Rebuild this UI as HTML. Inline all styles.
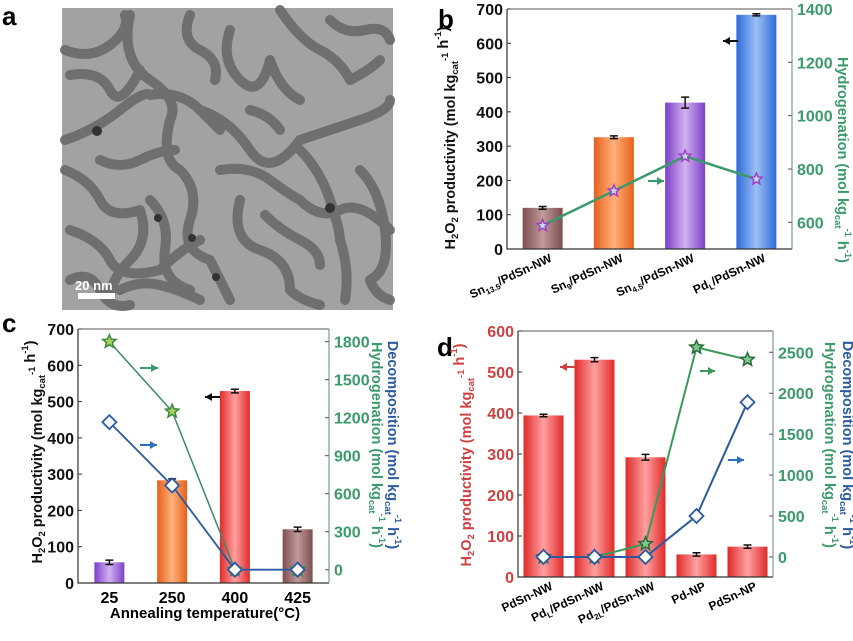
<!DOCTYPE html>
<html><head><meta charset="utf-8"><style>
body{margin:0;background:#fff;width:853px;height:636px;overflow:hidden}
svg{font-family:"Liberation Sans",Arial,sans-serif;font-weight:bold}
</style></head><body>
<svg id="fig" width="853" height="636" viewBox="0 0 853 636" xmlns="http://www.w3.org/2000/svg">
<defs>
<linearGradient id="gBrown" x1="0" x2="1"><stop offset="0" stop-color="#7d4f4f"/><stop offset=".5" stop-color="#c19a9a"/><stop offset="1" stop-color="#7d4f4f"/></linearGradient>
<linearGradient id="gOrange" x1="0" x2="1"><stop offset="0" stop-color="#e8601a"/><stop offset=".5" stop-color="#ffb07a"/><stop offset="1" stop-color="#e8601a"/></linearGradient>
<linearGradient id="gPurple" x1="0" x2="1"><stop offset="0" stop-color="#7d3fc8"/><stop offset=".5" stop-color="#d2b0f0"/><stop offset="1" stop-color="#7d3fc8"/></linearGradient>
<linearGradient id="gBlue" x1="0" x2="1"><stop offset="0" stop-color="#2f6ad8"/><stop offset=".5" stop-color="#9cc0f5"/><stop offset="1" stop-color="#2f6ad8"/></linearGradient>
<linearGradient id="gRed" x1="0" x2="1"><stop offset="0" stop-color="#e02a2a"/><stop offset=".5" stop-color="#ffa0a0"/><stop offset="1" stop-color="#e02a2a"/></linearGradient>
</defs>
<text x="2" y="25" font-size="26">a</text>
<g>
<rect x="62" y="8" width="331" height="302" fill="#a2a2a2"/>
<g fill="none" stroke="#6a6a6a" stroke-width="10" stroke-linecap="round" stroke-linejoin="round" opacity="0.9">
<path d="M65 50 Q90 60 110 45 T125 15"/>
<path d="M65 140 Q95 130 120 110 T150 95 Q180 90 200 110 T220 130"/>
<path d="M70 75 Q100 70 110 90 T140 70"/>
<path d="M130 15 Q120 60 150 80 T170 120 Q160 160 180 170"/>
<path d="M230 30 Q220 60 240 80 T270 60 Q280 90 300 100"/>
<path d="M280 10 Q300 40 320 50 T350 80 Q370 70 380 60"/>
<path d="M200 110 Q230 120 250 150 T300 140 Q330 130 360 120 T390 100"/>
<path d="M65 170 Q90 180 100 200 T140 210 Q150 240 130 260 T110 300"/>
<path d="M180 170 Q200 190 190 220 T210 260 Q220 280 230 300"/>
<path d="M220 170 Q250 165 270 180 T300 200 Q320 220 340 210 T390 230"/>
<path d="M240 200 Q230 240 260 250 T290 290 Q300 300 320 305"/>
<path d="M300 150 Q320 170 330 200 T340 240 Q350 270 345 300"/>
<path d="M70 230 Q100 240 110 260 T160 270 Q180 250 200 240"/>
<path d="M150 200 Q170 220 165 250 T190 290"/>
<path d="M360 170 Q380 190 385 230 T370 280 Q375 295 390 300"/>
<path d="M70 280 Q90 270 100 290 T130 305"/>
<path d="M190 15 Q180 40 200 50 T215 80"/>
<path d="M330 20 Q345 35 365 30 T390 40"/>
<path d="M100 160 Q120 170 140 160 T175 150"/>
<path d="M250 110 Q270 115 280 130"/>
<path d="M265 215 Q280 230 300 240 T320 265"/>
<path d="M120 290 Q140 280 160 285 T200 300"/>
</g>
<g fill="#333"><circle cx="97" cy="131" r="5"/><circle cx="330" cy="208" r="5"/><circle cx="192" cy="238" r="4"/><circle cx="158" cy="218" r="4"/><circle cx="216" cy="277" r="4"/></g>
<text x="75" y="290" font-size="13" fill="#fff">20 nm</text>
<rect x="78" y="293" width="37" height="6" fill="#fff"/>
</g>
<text x="438" y="28" font-size="26">b</text>
<text x="2" y="332" font-size="26">c</text>
<text x="437" y="356" font-size="26">d</text>
<g id="pb"></g>
<g id="pc"></g>
<g id="pd"></g>
</svg>
<script>
// ---- panel b data
const bCats = [["Sn","13.5","/PdSn-NW"],["Sn","9","/PdSn-NW"],["Sn","4.5","/PdSn-NW"],["Pd","L","/PdSn-NW"]];
const bH2O2 = [120, 326, 427, 683];
const bH2O2Err = [4, 4, 16, 3];
const bHydro = [588, 718, 848, 762];
const bLeftTicks = [0,100,200,300,400,500,600,700];
const bRightTicks = [600,800,1000,1200,1400];
// ---- panel c data
const cCats = ["25","250","400","425"];
const cH2O2 = [57, 283, 529, 148];
const cH2O2Err = [6, 4, 5, 6];
const cHydro = [1800, 1250, 0, 0];
const cDecomp = [1165, 665, 0, 0];
const cLeftTicks = [0,100,200,300,400,500,600,700];
const cRightTicks = [0,300,600,900,1200,1500,1800];
// ---- panel d data
const dCats = [["PdSn-NW","",""],["Pd","L","/PdSn-NW"],["Pd","2L","/PdSn-NW"],["Pd-NP","",""],["PdSn-NP","",""]];
const dH2O2 = [394, 530, 292, 55, 74];
const dH2O2Err = [3, 5, 7, 4, 4];
const dHydro = [0, 0, 160, 2560, 2410];
const dDecomp = [0, 0, 0, 500, 1890];
const dLeftTicks = [0,100,200,300,400,500,600];
const dRightTicks = [0,500,1000,1500,2000,2500];

const NS="http://www.w3.org/2000/svg";
function mk(parent,tag,attrs,text){const e=document.createElementNS(NS,tag);for(const k in attrs)e.setAttribute(k,attrs[k]);if(text!==undefined)e.textContent=text;parent.appendChild(e);return e;}
function lin(d0,d1,r0,r1){return v=>r0+(v-d0)*(r1-r0)/(d1-d0);}
function star(cx,cy,r){let p=[];for(let i=0;i<10;i++){const a=-Math.PI/2+i*Math.PI/5;const rr=i%2?r*0.45:r;p.push((cx+rr*Math.cos(a)).toFixed(1)+","+(cy+rr*Math.sin(a)).toFixed(1));}return p.join(" ");}

function panel(g,o){
  const x0=o.L,x1=o.R,yT=o.T,yB=o.B;
  const y=lin(o.ymin,o.ymax,yB,yT), yr=lin(o.rmin,o.rmax,yB,yT);
  const step=(x1-x0)/o.cats.length;
  const xc=i=>x0+step*(i+0.5);
  o.vals.forEach((v,i)=>{
    const b=mk(g,'rect',{x:xc(i)-o.bw/2,y:y(v),width:o.bw,height:yB-y(v),fill:o.fills[i]});
    
    
    const e=o.err[i],ex=xc(i);
    const eb=mk(g,'path',{d:`M${ex-4} ${y(v+e)}H${ex+4}M${ex} ${y(v+e)}V${y(v-e)}M${ex-4} ${y(v-e)}H${ex+4}`,stroke:'#111','stroke-width':1.5,fill:'none'});
    
    
  });
  const fr=mk(g,'path',{d:`M${x0} ${yT}V${yB}H${x1}`,stroke:'#333','stroke-width':1.2,fill:'none'});
  
  
  mk(g,'line',{x1:x0,y1:yT,x2:x1,y2:yT,stroke:'#555','stroke-width':1});
  const ra=mk(g,'line',{x1:x1,y1:yT,x2:x1,y2:yB,stroke:'#7a9aa8','stroke-width':1.2});
  
  
  o.lt.forEach(t=>{
    mk(g,'line',{x1:x0,y1:y(t),x2:x0+4,y2:y(t),stroke:'#333'});
    const tx=mk(g,'text',{x:x0-4,y:y(t)+6,'font-size':16,'text-anchor':'end',fill:o.lcol},t);
    
    
  });
  o.rt.forEach(t=>{
    mk(g,'line',{x1:x1,y1:yr(t),x2:x1-4,y2:yr(t),stroke:'#555'});
    const tx=mk(g,'text',{x:x1+5,y:yr(t)+6,'font-size':16,fill:'#3a9a6a'},t);
    
    
  });
  o.series.forEach(s=>{
    const pts=s.v.map((v,i)=>xc(i)+","+yr(v)).join(" ");
    const pl=mk(g,'polyline',{points:pts,fill:'none',stroke:s.c,'stroke-width':s.w});
    
    
    s.v.forEach((v,i)=>{
      let m;
      if(s.m==='star') m=mk(g,'polygon',{points:star(xc(i),yr(v),s.r||8),fill:s.mf,stroke:s.ms,'stroke-width':1.5});
      else m=mk(g,'polygon',{points:`${xc(i)},${yr(v)-7} ${xc(i)+7},${yr(v)} ${xc(i)},${yr(v)+7} ${xc(i)-7},${yr(v)}`,fill:'#fff',stroke:s.c,'stroke-width':1.8});
      
      
    });
  });
  o.cats.forEach((c,i)=>{
    let t;
    if(o.rot){
      const ax=xc(i)+10, ay=yB+12;
      t=mk(g,'text',{x:ax,y:ay,'font-size':12,'text-anchor':'end',transform:`rotate(-25 ${ax} ${ay})`});
      const a=document.createElementNS(NS,'tspan');a.textContent=c[0];t.appendChild(a);
      if(c[1]){const s=document.createElementNS(NS,'tspan');s.setAttribute('font-size','8');s.setAttribute('dy','3');s.textContent=c[1];t.appendChild(s);
        const r=document.createElementNS(NS,'tspan');r.setAttribute('dy','-3');r.textContent=c[2];t.appendChild(r);}
    } else {
      t=mk(g,'text',{x:xc(i),y:yB+20,'font-size':16,'text-anchor':'middle'},c);
    }
    
    
  });
  return {xc,y,yr};
}
function arrow(g,x1,y1,x2,col){const a=mk(g,'g',{});mk(a,'line',{x1:x1,y1:y1,x2:x2,y2:y1,stroke:col,'stroke-width':2});const d=x2>x1?-1:1;mk(a,'polygon',{points:`${x2},${y1} ${x2+d*7},${y1-4} ${x2+d*7},${y1+4}`,fill:col});}
function vtitle(g,x,y,parts,col,rotDeg,size){const t=mk(g,'text',{x:x,y:y,'font-size':size||16,'text-anchor':'middle',fill:col,transform:`rotate(${rotDeg} ${x} ${y})`});parts.forEach(p=>{const s=document.createElementNS(NS,'tspan');s.textContent=p[0];if(p[1])s.setAttribute('font-size','0.65em');if(p[1]==='sub')s.setAttribute('dy','3');if(p[1]==='sup')s.setAttribute('dy','-7');if(p[2])s.setAttribute('dy',p[2]);s.setAttribute('fill',col);t.appendChild(s);});return t;}
const h2o2Parts=[["H"],["2","sub"],["O","", "-3"],["2","sub"],[" productivity (mol kg","","-3"],["cat","sub"],["-1","sup","-10"],[" h",""," 7"],["-1","sup"],[")","","7"]];
const rightParts=(w)=>[[w+" (mol kg"],["cat","sub"],["-1","sup","-10"],[" h","","7"],["-1","sup"],[")","","7"]];

// panel b
const gb=document.getElementById('pb');
panel(gb,{id:'b',L:507,R:792,T:9,B:249,ymin:0,ymax:700,rmin:500,rmax:1400,cats:bCats,vals:bH2O2,err:bH2O2Err,bw:40,fills:['url(#gBrown)','url(#gOrange)','url(#gPurple)','url(#gBlue)'],lt:bLeftTicks,rt:bRightTicks,lcol:'#111',rot:true,
 series:[{name:'hydrogenation',v:bHydro,c:'#3a9a6a',w:2.5,m:'star',r:6,mf:'#b8e0e8',ms:'#a040c0'}]});
arrow(gb,738,41,723,'#111');arrow(gb,648,181,664,'#3a9a6a');
vtitle(gb,455,138,h2o2Parts,'#111',-90,14.5);
vtitle(gb,838,160,rightParts('Hydrogenation'),'#3a9a6a',90,14.5);

// panel c
const gc=document.getElementById('pc');
panel(gc,{id:'c',L:78,R:329,T:329,B:583,ymin:0,ymax:700,rmin:-105,rmax:1900,cats:cCats,vals:cH2O2,err:cH2O2Err,bw:30,fills:['url(#gPurple)','url(#gOrange)','url(#gRed)','url(#gBrown)'],lt:cLeftTicks,rt:cRightTicks,lcol:'#111',rot:false,
 series:[{name:'hydrogenation',v:cHydro,c:'#3a8a6a',w:1.5,m:'star',r:7,mf:'#a8d060',ms:'#3a8a3a'},{name:'decomposition',v:cDecomp,c:'#2a5aa0',w:1.8,m:'diamond'}]});
arrow(gc,140,368,158,'#3a9a6a');arrow(gc,140,445,157,'#2a70c0');arrow(gc,220,397,205,'#111');
vtitle(gc,42,452,h2o2Parts,'#111',-90,14.5);
vtitle(gc,388,445,rightParts('Decomposition'),'#2a5aa0',90,14.5);
vtitle(gc,372,445,rightParts('Hydrogenation'),'#3a9a6a',90,14.5);
const cx=mk(gc,'text',{x:205,y:618,'font-size':15,'text-anchor':'middle'},'Annealing temperature(°C)');



// panel d
const gd=document.getElementById('pd');
panel(gd,{id:'d',L:518,R:773,T:331,B:577,ymin:0,ymax:600,rmin:-245,rmax:2760,cats:dCats,vals:dH2O2,err:dH2O2Err,bw:40,fills:Array(5).fill('url(#gRed)'),lt:dLeftTicks,rt:dRightTicks,lcol:'#d04040',rot:true,
 series:[{name:'hydrogenation',v:dHydro,c:'#3a9a5a',w:2,m:'star',r:7,mf:'#80c890',ms:'#2a6a3a'},{name:'decomposition',v:dDecomp,c:'#2a5aa0',w:2,m:'diamond'}]});
arrow(gd,575,367,560,'#d04040');arrow(gd,700,371,715,'#3a9a5a');arrow(gd,728,460,744,'#2a70c0');
vtitle(gd,471,455,h2o2Parts,'#d04040',-90,14.5);
vtitle(gd,843,445,rightParts('Decomposition'),'#2a5aa0',90,14.5);
vtitle(gd,825,445,rightParts('Hydrogenation'),'#3a9a6a',90,14.5);
</script>
</body></html>
